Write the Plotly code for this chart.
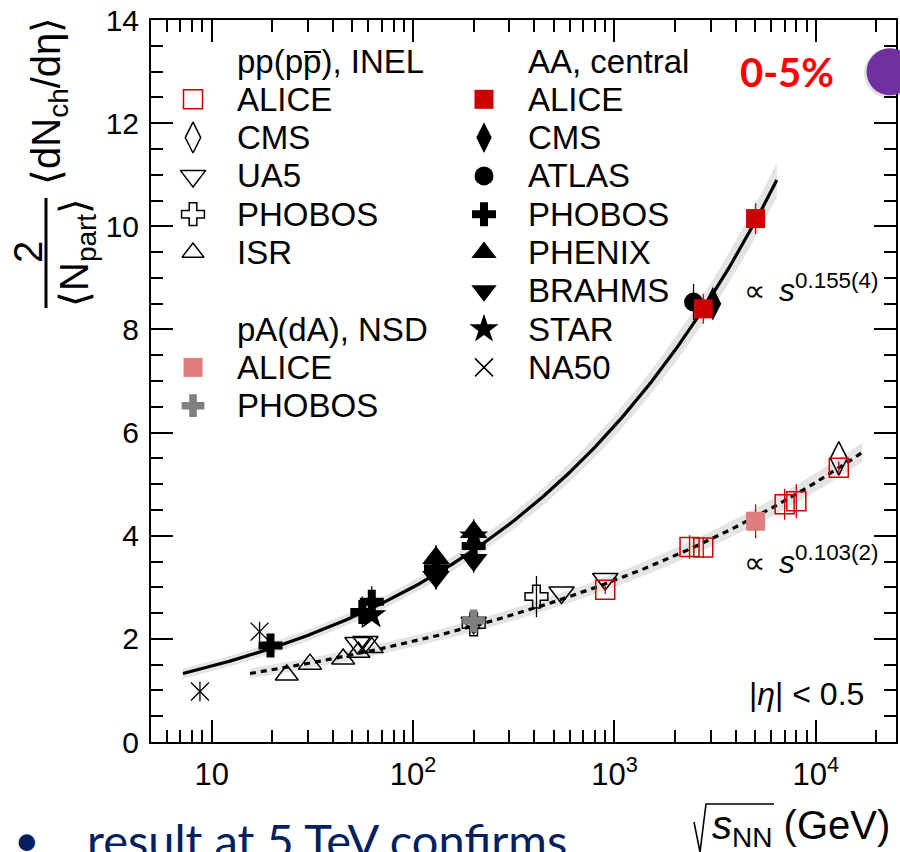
import numpy as np
import plotly.graph_objects as go

# ---------------- data ----------------
# pp (p-pbar), INEL
pp_alice_x = [900, 2360, 2760, 7000, 8000, 13000]
pp_alice_y = [2.95, 3.78, 3.77, 4.61, 4.67, 5.32]
pp_alice_e = [0.08, 0.23, 0.20, 0.30, 0.33, 0.12]
pp_cms_x = [13000]
pp_cms_y = [5.50]
ua5_x = [53, 58, 200, 546, 900]
ua5_y = [1.92, 1.94, 2.31, 2.90, 3.16]
phobos_pp_x = [200, 410]
phobos_pp_y = [2.28, 2.82]
phobos_pp_e = [0.15, 0.40]
isr_x = [23.6, 30.8, 45, 53.5, 62.4]
isr_y = [1.30, 1.51, 1.61, 1.74, 1.83]
# pA (dA), NSD
pa_alice_x = [5020]
pa_alice_y = [4.28]
pa_alice_e = [0.33]
pa_phobos_x = [200]
pa_phobos_y = [2.35]
pa_phobos_e = [0.18]
# AA central
aa_alice_x = [2760, 5020]
aa_alice_y = [8.40, 10.15]
aa_alice_e = [0.29, 0.30]
aa_cms_x = [3080]
aa_cms_y = [8.50]
atlas_x = [2470]
atlas_y = [8.53]
atlas_e = [0.35]
phobos_aa_x = [19.6, 56, 62.4, 130, 200]
phobos_aa_y = [1.87, 2.52, 2.72, 3.37, 3.80]
phobos_aa_e = [0.15, 0.30, 0.30, 0.25, 0.30]
phenix_x = [130, 200]
phenix_y = [3.57, 4.07]
phenix_e = [0.25, 0.25]
brahms_x = [130, 200]
brahms_y = [3.20, 3.53]
brahms_e = [0.25, 0.25]
star_x = [62.4, 200]
star_y = [2.46, 3.99]
na50_x = [8.75, 17.3]
na50_y = [0.98, 2.14]
na50_e = [0.19, 0.19]

# power-law fits  (dN/deta ~ s^p = sqrt(s)^(2p))
aa_norm, aa_pow, aa_range = 0.720, 0.155, (7.2, 6400)
pp_norm, pp_pow, pp_range = 0.755, 0.103, (15.5, 17000)

x_tickvals = [10, 100, 1000, 10000]
x_ticktext = ["10", "10<sup>2</sup>", "10<sup>3</sup>", "10<sup>4</sup>"]
y_tickvals = [0, 2, 4, 6, 8, 10, 12, 14]

# ---------------- geometry helpers ----------------
W, H = 900, 852
L, R, T, B = 151, 896, 20, 742


def X(px):
    return (px - L) / (R - L)


def Y(py):
    return (B - py) / (B - T)


FONT = "Liberation Sans, Arial, Helvetica, sans-serif"
SLIDE_FONT = "Lato, Carlito, sans-serif"
RED = "#cc0000"
PINK = "#e07d7d"
GRAY = "#808080"
BAND = "#e4e4e4"

fig = go.Figure()


def band_and_line(norm, p, xr, dash):
    xs = np.geomspace(xr[0], xr[1], 200)
    ys = norm * xs ** (2 * p)
    hw = np.sqrt(0.09 ** 2 + (0.03 * ys) ** 2)
    fig.add_trace(go.Scatter(
        x=np.concatenate([xs, xs[::-1]]),
        y=np.concatenate([ys + hw, (ys - hw)[::-1]]),
        fill="toself", fillcolor=BAND, line=dict(width=0),
        mode="lines", hoverinfo="skip", showlegend=False))
    fig.add_trace(go.Scatter(
        x=xs, y=ys, mode="lines",
        line=dict(color="black", width=3.2, dash=dash),
        hoverinfo="skip", showlegend=False))


band_and_line(aa_norm, aa_pow, aa_range, "solid")
band_and_line(pp_norm, pp_pow, pp_range, "6px,5px")


def pts(x, y, symbol, size, color, err=None, lw=1.5, ecolor=None):
    kw = {}
    if err is not None:
        kw["error_y"] = dict(type="data", array=err, visible=True,
                             thickness=1.3, width=0,
                             color=ecolor or color)
    fig.add_trace(go.Scatter(
        x=x, y=y, mode="markers",
        marker=dict(symbol=symbol, size=size, color=color,
                    line=dict(color=color, width=lw)),
        showlegend=False, **kw))


# pp
pts(isr_x, isr_y, "triangle-up-open", 20, "black")
pts(ua5_x, ua5_y, "triangle-down-open", 22, "black")
pts(phobos_pp_x, phobos_pp_y, "cross-open", 19, "black", phobos_pp_e)
pts(pp_cms_x, pp_cms_y, "diamond-tall-open", 24, "black")
pts(pp_alice_x, pp_alice_y, "square-open", 19, RED, pp_alice_e)
# pA
pts(pa_phobos_x, pa_phobos_y, "cross", 19, GRAY, pa_phobos_e, lw=0)
pts(pa_alice_x, pa_alice_y, "square", 19, PINK, pa_alice_e, lw=0, ecolor=RED)
# AA
pts(na50_x, na50_y, "x-thin-open", 18, "black", na50_e, lw=1.3)
pts(phobos_aa_x, phobos_aa_y, "cross", 20, "black", phobos_aa_e, lw=0)
pts(brahms_x, brahms_y, "triangle-down", 24, "black", brahms_e, lw=0)
pts(phenix_x, phenix_y, "triangle-up", 24, "black", phenix_e, lw=0)
pts(star_x, star_y, "star", 22, "black", lw=0)
pts(atlas_x, atlas_y, "circle", 19, "black", atlas_e, lw=0)
pts(aa_cms_x, aa_cms_y, "diamond-tall", 24, "black", lw=0)
pts(aa_alice_x, aa_alice_y, "square", 19, RED, aa_alice_e, lw=0)

# ---------------- legend (manual, pixel grid) ----------------
row0, drow = 61, 38.3
col_pp_sym, col_pp_txt = 193, 235
col_aa_sym, col_aa_txt = 484, 526

legend_pp = [
    ("pp(pp), INEL", None, None, None),
    ("ALICE", "square-open", 19, RED),
    ("CMS", "diamond-tall-open", 22, "black"),
    ("UA5", "triangle-down-open", 22, "black"),
    ("PHOBOS", "cross-open", 19, "black"),
    ("ISR", "triangle-up-open", 19, "black"),
    (None, None, None, None),
    ("pA(dA), NSD", None, None, None),
    ("ALICE", "square", 19, PINK),
    ("PHOBOS", "cross", 19, GRAY),
]
legend_aa = [
    ("AA, central", None, None, None),
    ("ALICE", "square", 19, RED),
    ("CMS", "diamond-tall", 22, "black"),
    ("ATLAS", "circle", 19, "black"),
    ("PHOBOS", "cross", 20, "black"),
    ("PHENIX", "triangle-up", 22, "black"),
    ("BRAHMS", "triangle-down", 22, "black"),
    ("STAR", "star", 22, "black"),
    ("NA50", "x-thin-open", 18, "black"),
]


def ann(px, py, text, size, family=FONT, color="black", **kw):
    d = dict(x=X(px), y=Y(py), xref="paper", yref="paper", text=text,
             showarrow=False, xanchor="center", yanchor="middle",
             font=dict(size=size, family=family, color=color))
    d.update(kw)
    return d


annotations = []
for col_sym, col_txt, items in [(col_pp_sym, col_pp_txt, legend_pp),
                                 (col_aa_sym, col_aa_txt, legend_aa)]:
    for i, (label, sym, size, color) in enumerate(items):
        yy = row0 + drow * i
        if label:
            annotations.append(ann(col_txt, yy, label, 33, xanchor="left"))
        if sym:
            fig.add_trace(go.Scatter(
                x=[col_sym], y=[yy], xaxis="x2", yaxis="y2", mode="markers",
                marker=dict(symbol=sym, size=size, color=color,
                            line=dict(color=color,
                                      width=1.5 if "open" in sym else 0)),
                showlegend=False, hoverinfo="skip"))

# ---------------- other texts ----------------
annotations += [
    ann(787, 72, "<b>0-5%</b>", 40, SLIDE_FONT, "#ff0000"),
    ann(754, 290, "∝", 30),
    ann(777, 288, "<i>s</i><sup>0.155(4)</sup>", 32, xanchor="left"),
    ann(754, 562, "∝", 30),
    ann(777, 560, "<i>s</i><sup>0.103(2)</sup>", 32, xanchor="left"),
    ann(866, 694, "|<i>η</i>| &lt; 0.5", 32, xanchor="right"),
    # y title (fraction)
    ann(49, 101, "⟨dN<sub>ch</sub>/dη⟩", 40, textangle=-90),
    ann(28, 252, "2", 40, textangle=-90),
    ann(77, 253, "⟨N<sub>part</sub>⟩", 40, textangle=-90),
    # x title
    ann(710, 828, "<i>s</i><sub>NN</sub> (GeV)", 40, xanchor="left"),
    # slide text below
    ann(27, 839, "•", 44, SLIDE_FONT, "#002060"),
    ann(85, 840, "result at 5 TeV confirms", 47, SLIDE_FONT, "#002060",
        xanchor="left"),
]

shapes = [
    # fraction bar of the y title
    dict(type="line", xref="paper", yref="paper",
         x0=X(46), x1=X(46), y0=Y(198), y1=Y(308),
         line=dict(color="black", width=3)),
    # radical sign of the x title
    dict(type="path", xref="paper", yref="paper",
         path=f"M {X(694)},{Y(822)} L {X(700)},{Y(852)} L {X(706)},{Y(804)} L {X(774)},{Y(804)}",
         line=dict(color="black", width=1.6)),
    # overline on the anti-proton p in the legend header
    dict(type="path", xref="paper", yref="paper",
         path=f"M {X(304)},{Y(52)} L {X(321)},{Y(52)}",
         line=dict(color="black", width=2)),
    # purple circle (slide decoration) with soft shadow
    dict(type="circle", xref="paper", yref="paper",
         x0=X(864), x1=X(914), y0=Y(48), y1=Y(98),
         fillcolor="rgba(0,0,0,0.12)", line=dict(width=0)),
    dict(type="circle", xref="paper", yref="paper",
         x0=X(866.5), x1=X(913.5), y0=Y(48.3), y1=Y(95.3),
         fillcolor="#7030a0", line=dict(width=0)),
]

minor_x = [m * 10 ** k for k in range(0, 5) for m in range(2, 10)
           if 5 <= m * 10 ** k <= 25000]

fig.update_layout(
    width=W, height=H,
    margin=dict(l=L, r=W - R, t=T, b=H - B, pad=0, autoexpand=False),
    paper_bgcolor="white", plot_bgcolor="white",
    font=dict(family=FONT, color="black"),
    showlegend=False,
    annotations=annotations,
    shapes=shapes,
    xaxis=dict(
        type="log", range=[np.log10(5.0), np.log10(25000)], automargin=False,
        tickmode="array", tickvals=x_tickvals, ticktext=x_ticktext,
        ticks="inside", ticklen=22, tickwidth=1.5, tickcolor="black",
        minor=dict(tickmode="array", tickvals=minor_x, ticks="inside",
                   ticklen=12, tickwidth=1.5, tickcolor="black", showgrid=False),
        showline=True, linecolor="black", linewidth=2, mirror="allticks",
        showgrid=False, zeroline=False,
        tickfont=dict(size=31, family=FONT), ticklabelstandoff=4),
    yaxis=dict(
        range=[0, 14], tickmode="array", tickvals=y_tickvals, automargin=False,
        ticks="inside", ticklen=22, tickwidth=1.5, tickcolor="black",
        minor=dict(dtick=0.5, ticks="inside", ticklen=12, tickwidth=1.5,
                   tickcolor="black", showgrid=False),
        showline=True, linecolor="black", linewidth=2, mirror="allticks",
        showgrid=False, zeroline=False,
        tickfont=dict(size=30, family=FONT), ticklabelstandoff=4),
    xaxis2=dict(overlaying="x", range=[L, R], visible=False, anchor="y2",
                automargin=False),
    yaxis2=dict(overlaying="y", range=[B, T], visible=False, anchor="x2",
                automargin=False),
)

fig.write_html(
    "out.html",
    config={"displayModeBar": False},
    post_script="document.body.style.margin='0';document.body.style.overflow='hidden';")
